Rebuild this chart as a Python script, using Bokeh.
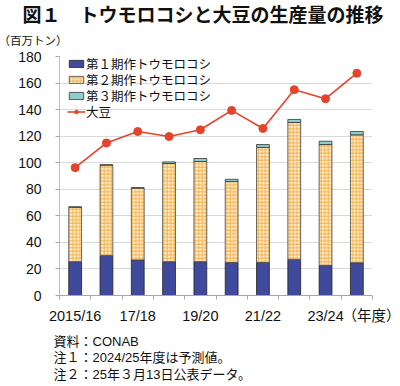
from bokeh.plotting import figure
from bokeh.models import FixedTicker, Title, Legend, LegendItem, ColumnDataSource, Range1d
from bokeh.embed import file_html
from bokeh.resources import INLINE

years = ["2015/16", "2016/17", "2017/18", "2018/19", "2019/20",
         "2020/21", "2021/22", "2022/23", "2023/24", "2024/25"]
tick_labels = {0: "2015/16", 2: "17/18", 4: "19/20", 6: "21/22", 8: "23/24", 9.5: "（年度）"}
corn1 = [25.5, 30.2, 26.8, 25.5, 25.5, 24.8, 24.9, 27.2, 22.7, 24.7]
corn2 = [41.1, 68.1, 54.2, 73.9, 75.4, 61.0, 86.6, 103.1, 91.0, 96.3]
corn3 = [0.0, 0.0, 0.0, 1.2, 2.3, 1.7, 2.2, 2.3, 2.5, 2.5]
soy = [96.3, 114.9, 123.5, 119.7, 124.8, 139.4, 125.8, 155.0, 148.2, 167.4]
y_ticks = [0, 20, 40, 60, 80, 100, 120, 140, 160, 180]
legend_labels = ["第１期作トウモロコシ", "第２期作トウモロコシ", "第３期作トウモロコシ", "大豆"]

CJK = "Noto Sans CJK JP"
MIX = "Liberation Sans, Noto Sans CJK JP"
LAT = "Liberation Sans"

xs = list(range(len(years)))
b1 = [0.0] * len(xs)
t1 = [a for a in corn1]
t2 = [a + b for a, b in zip(corn1, corn2)]
t3 = [a + c for a, c in zip(t2, corn3)]
src = ColumnDataSource(dict(x=xs, b1=b1, t1=t1, t2=t2, t3=t3, soy=soy))

p = figure(width=400, height=386, output_backend="svg", toolbar_location=None,
           x_range=Range1d(-0.5, 9.5), y_range=Range1d(0, 180),
           min_border_left=59, min_border_right=28, min_border_top=10,
           min_border_bottom=10, title=None)
p.outline_line_color = None
p.background_fill_color = "white"
p.border_fill_color = "white"

W = 0.41
r1 = p.vbar(x="x", bottom="b1", top="t1", width=W, source=src,
            fill_color="#3F4A9C", line_color="#222222", line_width=0.8)
r2 = p.vbar(x="x", bottom="t1", top="t2", width=W, source=src,
            fill_color="#FFEFD0", line_color="#444444", line_width=0.8,
            hatch_pattern="+", hatch_color="#F4B04A", hatch_scale=3.5,
            hatch_weight=1.0, hatch_alpha=1.0)
r3 = p.vbar(x="x", bottom="t2", top="t3", width=W, source=src,
            fill_color="#8DCFCB", line_color="#333333", line_width=0.8)
rl = p.line(x="x", y="soy", source=src, line_color="#E5432B", line_width=1.6)
rc = p.scatter(x="x", y="soy", source=src, size=8, fill_color="#E5432B",
               line_color="#E5432B")

# axes
xa = p.xaxis[0]
xa.ticker = FixedTicker(ticks=[0, 2, 4, 6, 8, 9.5],
                        minor_ticks=[i - 0.5 for i in range(11)])
xa.major_label_overrides = {k: v for k, v in tick_labels.items()}
xa.major_tick_out = 0
xa.major_tick_in = 0
xa.minor_tick_out = 4
xa.minor_tick_in = 0
xa.minor_tick_line_color = "#A6A6A6"
xa.axis_line_color = "#A6A6A6"
xa.major_label_standoff = 8
xa.major_label_text_font = MIX
xa.major_label_text_font_size = "14.5px"
xa.major_label_text_color = "#111111"

ya = p.yaxis[0]
ya.ticker = FixedTicker(ticks=y_ticks)
ya.minor_tick_line_color = None
ya.major_tick_out = 4
ya.major_tick_in = 0
ya.major_tick_line_color = "#A6A6A6"
ya.axis_line_color = "#BFBFBF"
ya.major_label_standoff = 14
ya.major_label_text_font = LAT
ya.major_label_text_font_size = "14px"
ya.major_label_text_color = "#111111"

p.xgrid.grid_line_color = None
p.ygrid.grid_line_color = "#D9D9D9"
p.ygrid.ticker = FixedTicker(ticks=y_ticks)

# one single-row legend per entry, so that the row pitch matches the reference
legend_renderers = [[r1], [r2], [r3], [rl, rc]]
legend_bottoms = [222, 206, 190, 174.5]
for lab, rens, yb in zip(legend_labels, legend_renderers, legend_bottoms):
    lg = Legend(items=[LegendItem(label=lab, renderers=rens)], location=(8, yb))
    lg.background_fill_alpha = 0
    lg.border_line_color = None
    lg.padding = 0
    lg.margin = 0
    lg.spacing = 0
    lg.label_height = 18
    lg.glyph_height = 9
    lg.glyph_width = 18
    lg.label_standoff = 1
    lg.label_text_font = MIX
    lg.label_text_font_size = "12.5px"
    lg.label_text_color = "#111111"
    p.add_layout(lg, "center")

# texts outside the plot frame (titles in side panels)
unit_t = Title(text="（百万トン）", text_font=MIX, text_font_size="11.5px",
               text_font_style="normal", text_color="#111111",
               align="left", offset=-61, standoff=13.6, vertical_align="top")
p.add_layout(unit_t, "above")
main_t = Title(text="図１　トウモロコシと大豆の生産量の推移", text_font=MIX,
               text_font_size="19px", text_font_style="bold", text_color="#111111",
               align="left", offset=-37, standoff=5.4, vertical_align="bottom")
p.add_layout(main_t, "above")

notes = ["資料：CONAB", "注１：2024/25年度は予測値。", "注２：25年３月13日公表データ。"]
note_t = Title(text="\n".join(notes), text_font=MIX, text_font_size="13px",
               text_font_style="normal", text_color="#111111",
               align="left", offset=-6, standoff=10, vertical_align="bottom",
               text_line_height=1.1)
p.add_layout(note_t, "below")

open("out.html", "w").write(file_html(p, INLINE))
